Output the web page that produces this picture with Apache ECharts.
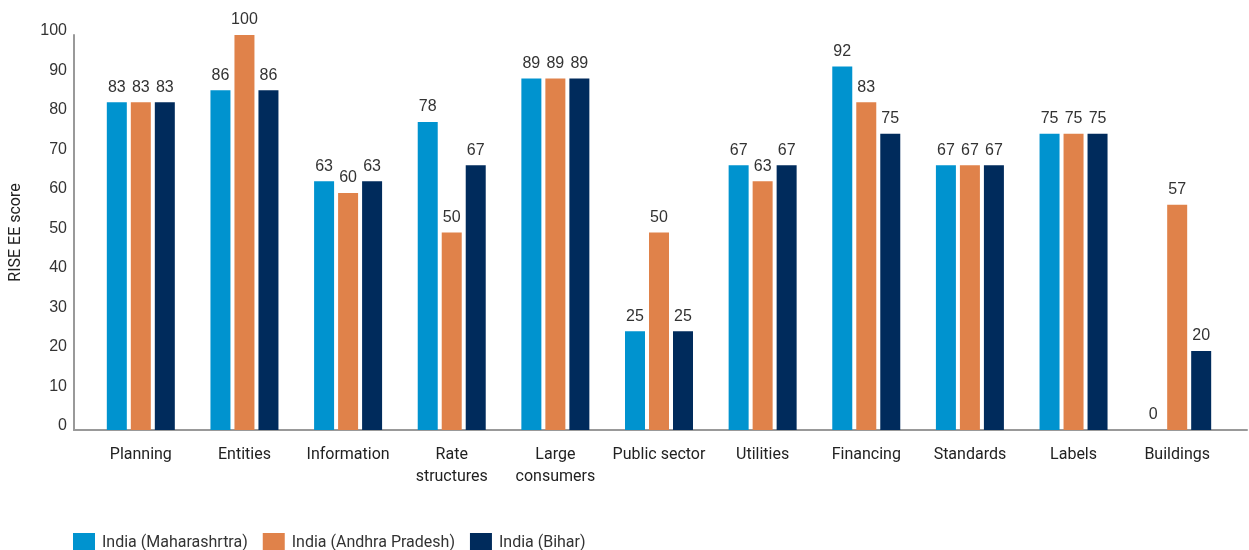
<!DOCTYPE html>
<html>
<head>
<meta charset="utf-8">
<script src="https://cdn.jsdelivr.net/npm/echarts@6/dist/echarts.min.js"></script>
<style>
html,body{margin:0;padding:0;background:#fff;}
#chart{width:1249px;height:550px;}
</style>
</head>
<body>
<div id="chart"></div>
<script>
var categories = ['Planning','Entities','Information','Rate\nstructures','Large\nconsumers','Public sector','Utilities','Financing','Standards','Labels','Buildings'];
var seriesNames = ['India (Maharashrtra)','India (Andhra Pradesh)','India (Bihar)'];
var maharashtra = [83,86,63,78,89,25,67,92,67,75,0];
var andhraPradesh = [83,100,60,50,89,50,63,83,67,75,57];
var bihar = [83,86,63,67,89,25,67,75,67,75,20];
var colors = ['#0093CF','#E0824A','#002B5C'];
var yMin = 0, yMax = 100, yInterval = 10;

var numFont = '"Liberation Sans", sans-serif';
var txtFont = 'Roboto, "Noto Sans", sans-serif';

var chart = echarts.init(document.getElementById('chart'), null, {renderer:'canvas'});
function mk(name, data, color){
  return {
    name: name, type: 'bar', data: data, xAxisIndex: 0, yAxisIndex: 0,
    barWidth: 20, barGap: '20%',
    itemStyle: {color: color},
    label: {show: true, position: 'top', distance: 7, color: '#333',
      fontFamily: numFont, fontSize: 16}
  };
}
chart.setOption({
  animation: false,
  color: colors,
  grid: [
    {left: 89, right: 20, top: 35, bottom: 120},
    {left: 67, right: 2, top: 35, bottom: 120}
  ],
  legend: {
    left: 68, top: 528, itemWidth: 22, itemHeight: 20, itemGap: 15,
    icon: 'rect',
    data: seriesNames,
    textStyle: {fontFamily: txtFont, fontSize: 16, color: '#333', padding: [0,0,0,2]}
  },
  xAxis: [
    {type: 'category', gridIndex: 0, data: categories, boundaryGap: true,
     axisLine: {show: false}, axisTick: {show: false},
     axisLabel: {fontFamily: txtFont, fontSize: 16, color: '#222', margin: 14, lineHeight: 22, interval: 0}},
    {type: 'value', gridIndex: 1, min: 0, max: 1, show: true,
     axisLine: {show: true, lineStyle: {color: '#999', width: 2}},
     axisTick: {show: false}, axisLabel: {show: false}, splitLine: {show: false}}
  ],
  yAxis: [
    {type: 'value', gridIndex: 0, min: yMin, max: yMax, interval: yInterval, show: false},
    {type: 'value', gridIndex: 1, min: yMin, max: yMax, interval: yInterval,
     name: 'RISE EE score', nameLocation: 'middle', nameGap: 50, nameRotate: 90,
     nameTextStyle: {fontFamily: txtFont, fontSize: 16, color: '#222'},
     axisLine: {show: true, lineStyle: {color: '#999', width: 2}},
     axisTick: {show: false}, splitLine: {show: false},
     axisLabel: {fontFamily: numFont, fontSize: 16, color: '#333', margin: 7,
       verticalAlign: 'bottom', lineHeight: 8}}
  ],
  series: [
    mk(seriesNames[0], maharashtra, colors[0]),
    mk(seriesNames[1], andhraPradesh, colors[1]),
    mk(seriesNames[2], bihar, colors[2])
  ]
});
</script>
</body>
</html>
